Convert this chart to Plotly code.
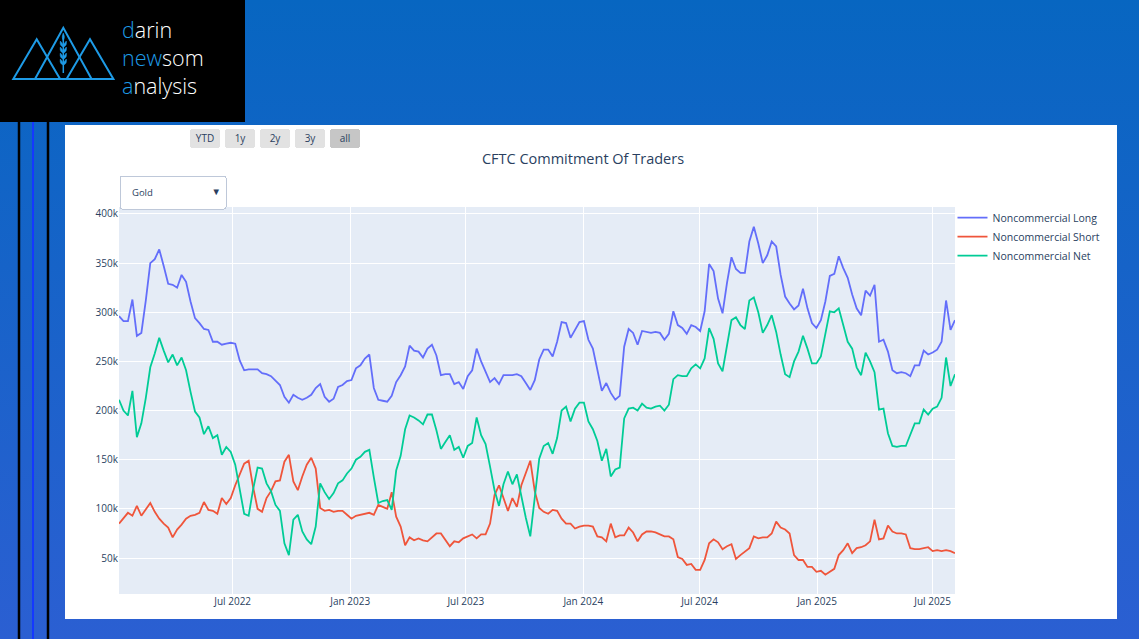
import base64
import numpy as np
import pandas as pd
import plotly.graph_objects as go

# weekly COT report dates (Tuesdays)
report_dates = pd.date_range("2022-01-04", periods=188, freq="7D")

# values in thousands of contracts
long_k = [
    296, 291, 291, 313, 276, 279, 312, 350, 354, 364,
    347, 329, 328, 325, 338, 331, 311, 294, 289, 283,
    282, 270, 270, 267, 268, 269, 268, 251, 241, 242,
    242, 242, 238, 237, 235, 231, 226, 214, 208, 216,
    213, 211, 213, 216, 223, 227, 214, 209, 212, 224,
    226, 230, 231, 243, 246, 253, 257, 223, 211, 210,
    209, 215, 229, 236, 245, 266, 261, 260, 254, 263,
    267, 256, 236, 237, 237, 227, 229, 222, 235, 241,
    263, 250, 240, 229, 233, 227, 236, 236, 236, 237,
    235, 228, 221, 231, 252, 262, 262, 255, 270, 290,
    289, 274, 282, 290, 291, 272, 263, 241, 220, 228,
    218, 211, 215, 265, 283, 279, 267, 281, 280, 279,
    280, 279, 272, 278, 301, 287, 284, 278, 287, 285,
    281, 301, 349, 342, 314, 299, 330, 356, 344, 340,
    340, 372, 387, 370, 350, 358, 372, 367, 338, 316,
    309, 303, 307, 324, 304, 289, 284, 292, 311, 337,
    339, 357, 345, 335, 318, 304, 297, 322, 317, 328,
    270, 272, 260, 241, 238, 239, 238, 235, 246, 246,
    261, 257, 259, 262, 270, 312, 282, 292,
]
short_k = [
    85, 91, 96, 93, 103, 93, 100, 106, 97, 90,
    85, 81, 71, 79, 84, 90, 93, 94, 96, 107,
    99, 98, 95, 111, 105, 111, 124, 136, 146, 149,
    122, 100, 97, 111, 118, 128, 129, 148, 155, 128,
    119, 133, 145, 152, 141, 101, 98, 99, 97, 98,
    98, 94, 90, 93, 94, 95, 96, 94, 104, 102,
    100, 117, 92, 82, 63, 71, 68, 70, 68, 67,
    71, 75, 75, 69, 62, 67, 66, 70, 72, 74,
    70, 74, 74, 85, 114, 124, 111, 98, 111, 102,
    124, 137, 149, 118, 101, 97, 95, 99, 98, 90,
    85, 85, 80, 82, 83, 83, 82, 72, 71, 67,
    85, 71, 73, 73, 81, 76, 67, 74, 77, 77,
    76, 74, 72, 72, 69, 51, 49, 43, 44, 38,
    38, 48, 65, 69, 66, 59, 62, 64, 49, 53,
    57, 60, 72, 70, 71, 71, 75, 87, 81, 79,
    75, 53, 48, 48, 41, 41, 36, 37, 33, 36,
    39, 53, 58, 65, 55, 60, 61, 63, 67, 89,
    69, 70, 83, 77, 75, 75, 74, 60, 59, 59,
    60, 61, 57, 58, 57, 58, 57, 55,
]
net_k = [
    211, 200, 195, 220, 173, 187, 213, 244, 258, 274,
    261, 249, 257, 246, 254, 241, 219, 199, 193, 176,
    184, 172, 175, 155, 163, 158, 145, 118, 95, 93,
    120, 142, 141, 126, 118, 104, 98, 65, 53, 89,
    94, 77, 69, 64, 82, 126, 117, 110, 116, 126,
    129, 136, 141, 150, 153, 158, 160, 132, 106, 108,
    109, 99, 139, 154, 181, 195, 193, 190, 186, 196,
    196, 180, 161, 168, 175, 160, 163, 152, 164, 167,
    193, 175, 166, 143, 119, 103, 125, 138, 125, 135,
    111, 91, 72, 113, 151, 164, 167, 156, 172, 200,
    204, 189, 202, 208, 208, 189, 181, 169, 149, 161,
    133, 140, 142, 192, 202, 203, 200, 207, 203, 202,
    204, 205, 200, 206, 232, 236, 235, 235, 243, 247,
    243, 253, 284, 273, 248, 240, 268, 292, 295, 287,
    283, 312, 315, 300, 279, 287, 297, 280, 257, 237,
    234, 250, 260, 276, 263, 248, 248, 255, 278, 301,
    300, 304, 287, 270, 263, 244, 236, 259, 250, 239,
    201, 202, 177, 164, 163, 164, 164, 175, 187, 187,
    201, 196, 202, 204, 213, 254, 225, 237,
]

series_names = ["Noncommercial Long", "Noncommercial Short", "Noncommercial Net"]
series_colors = ["#636efa", "#EF553B", "#00cc96"]

W, H = 1139, 639
ML, MR, MT, MB = 119, 184, 207, 45
PW, PH = W - ML - MR, H - MT - MB


def px2x(px):
    return (px - ML) / PW


def px2y(py):
    return (H - MB - py) / PH


fig = go.Figure()
for name, vals, col in zip(series_names, [long_k, short_k, net_k], series_colors):
    fig.add_trace(go.Scatter(
        x=report_dates,
        y=np.array(vals) * 1000,
        mode="lines",
        name=name,
        line=dict(color=col, width=1.8),
    ))

# page background (blue gradient)
svg = ('<svg xmlns="http://www.w3.org/2000/svg" width="1139" height="639">'
       '<defs><linearGradient id="g" x1="0" y1="0" x2="0" y2="1">'
       '<stop offset="0" stop-color="#0766c1"/><stop offset="1" stop-color="#2b5fd2"/>'
       '</linearGradient></defs><rect width="1139" height="639" fill="url(#g)"/></svg>')
bg_src = "data:image/svg+xml;base64," + base64.b64encode(svg.encode()).decode()

logo_blue = "#1e9be6"
shapes = [
    # white panel behind the chart
    dict(type="rect", xref="paper", yref="paper", layer="below",
         x0=px2x(65), x1=px2x(1117), y0=px2y(125), y1=px2y(619),
         fillcolor="white", line_width=0),
    # plot area background (the panel would hide the template one)
    dict(type="rect", xref="paper", yref="paper", layer="below",
         x0=0, x1=1, y0=0, y1=1, fillcolor="#E5ECF6", line_width=0),
    # black logo box
    dict(type="rect", xref="paper", yref="paper", layer="below",
         x0=px2x(0), x1=px2x(245), y0=px2y(0), y1=px2y(122),
         fillcolor="black", line_width=0),
]
for lx, lc, lw in [(19, "black", 2.5), (33, "#1438ff", 2), (48, "black", 2.5)]:
    shapes.append(dict(type="line", xref="paper", yref="paper", layer="below",
                       x0=px2x(lx), x1=px2x(lx), y0=px2y(122), y1=px2y(639),
                       line=dict(color=lc, width=lw)))


def tri(apex_x, apex_y, half, base_y=79):
    return (f"M {px2x(apex_x - half)},{px2y(base_y)} L {px2x(apex_x)},{px2y(apex_y)} "
            f"L {px2x(apex_x + half)},{px2y(base_y)} Z")


for ax_, ay_, hw in [(36.7, 39.3, 23.4), (63.3, 27.7, 28.3), (90, 39.3, 23.4)]:
    shapes.append(dict(type="path", xref="paper", yref="paper", path=tri(ax_, ay_, hw),
                       line=dict(color=logo_blue, width=2)))
# wheat stalk
shapes.append(dict(type="line", xref="paper", yref="paper",
                   x0=px2x(63.3), x1=px2x(63.3), y0=px2y(38), y1=px2y(73),
                   line=dict(color=logo_blue, width=1.5)))
for ky in [44, 50, 56, 62]:
    for side in (-1, 1):
        p = (f"M {px2x(63.3)},{px2y(ky + 3)} "
             f"Q {px2x(63.3 + side * 4)},{px2y(ky + 2)} {px2x(63.3 + side * 3)},{px2y(ky - 3)} "
             f"Q {px2x(63.3 + side * 0.5)},{px2y(ky - 1)} {px2x(63.3)},{px2y(ky + 3)} Z")
        shapes.append(dict(type="path", xref="paper", yref="paper", path=p,
                           fillcolor=logo_blue, line=dict(color=logo_blue, width=0.5)))
shapes.append(dict(type="path", xref="paper", yref="paper",
                   path=(f"M {px2x(63.3)},{px2y(41)} Q {px2x(65.5)},{px2y(37)} {px2x(63.3)},{px2y(33)} "
                         f"Q {px2x(61.1)},{px2y(37)} {px2x(63.3)},{px2y(41)} Z"),
                   fillcolor=logo_blue, line=dict(color=logo_blue, width=0.5)))

b = f"<span style='color:{logo_blue}'>"
logo_text = b + "d</span>arin<br>" + b + "new</span>som<br>" + b + "a</span>nalysis"
annotations = [
    dict(text=logo_text, xref="paper", yref="paper", x=px2x(120), y=px2y(57),
         xanchor="left", yanchor="middle", align="left", showarrow=False,
         font=dict(family="Open Sans", size=21.5, color="white", weight=300))
]

fig.update_layout(
    width=W, height=H,
    margin=dict(l=ML, r=MR, t=MT, b=MB),
    template="plotly",
    paper_bgcolor="#1a62c8",
    font=dict(family="Open Sans", size=10, color="#2a3f5f"),
    title=dict(text="CFTC Commitment Of Traders", x=px2x(583), xref="paper", xanchor="center",
               y=1 - 159 / H, yref="container", yanchor="middle",
               font=dict(size=14.5, color="#2a3f5f")),
    legend=dict(x=0.997, y=1.01, xanchor="left", yanchor="top",
                font=dict(size=10.5), bgcolor="rgba(0,0,0,0)"),
    xaxis=dict(
        dtick="M6", tick0="2022-01-01", tickformat="%b %Y",
        rangeselector=dict(
            buttons=[
                dict(count=1, label="YTD", step="year", stepmode="todate"),
                dict(count=1, label="1y", step="year", stepmode="backward"),
                dict(count=2, label="2y", step="year", stepmode="backward"),
                dict(count=3, label="3y", step="year", stepmode="backward"),
                dict(label="all", step="all"),
            ],
            x=px2x(190), xanchor="left", y=px2y(148), yanchor="bottom",
            bgcolor="#e2e2e2", activecolor="#c6c6c6", font=dict(size=10),
        ),
    ),
    yaxis=dict(range=[13400, 407100], dtick=50000),
    updatemenus=[dict(
        type="dropdown", active=0, showactive=True,
        buttons=[dict(label="Gold" + "\u00a0" * 18, method="skip", args=[None])],
        x=0, xanchor="left", y=px2y(175), yanchor="top",
        bgcolor="white", bordercolor="#bec8d9", font=dict(size=9.5),
    )],
    images=[dict(source=bg_src, xref="paper", yref="paper", x=px2x(0), y=px2y(0),
                 sizex=W / PW, sizey=H / PH, xanchor="left", yanchor="top",
                 sizing="stretch", layer="below")],
    shapes=shapes,
    annotations=annotations,
)

fig.write_html("out.html", config={"displayModeBar": False},
               post_script="document.body.style.margin='0';document.body.style.overflow='hidden';")
